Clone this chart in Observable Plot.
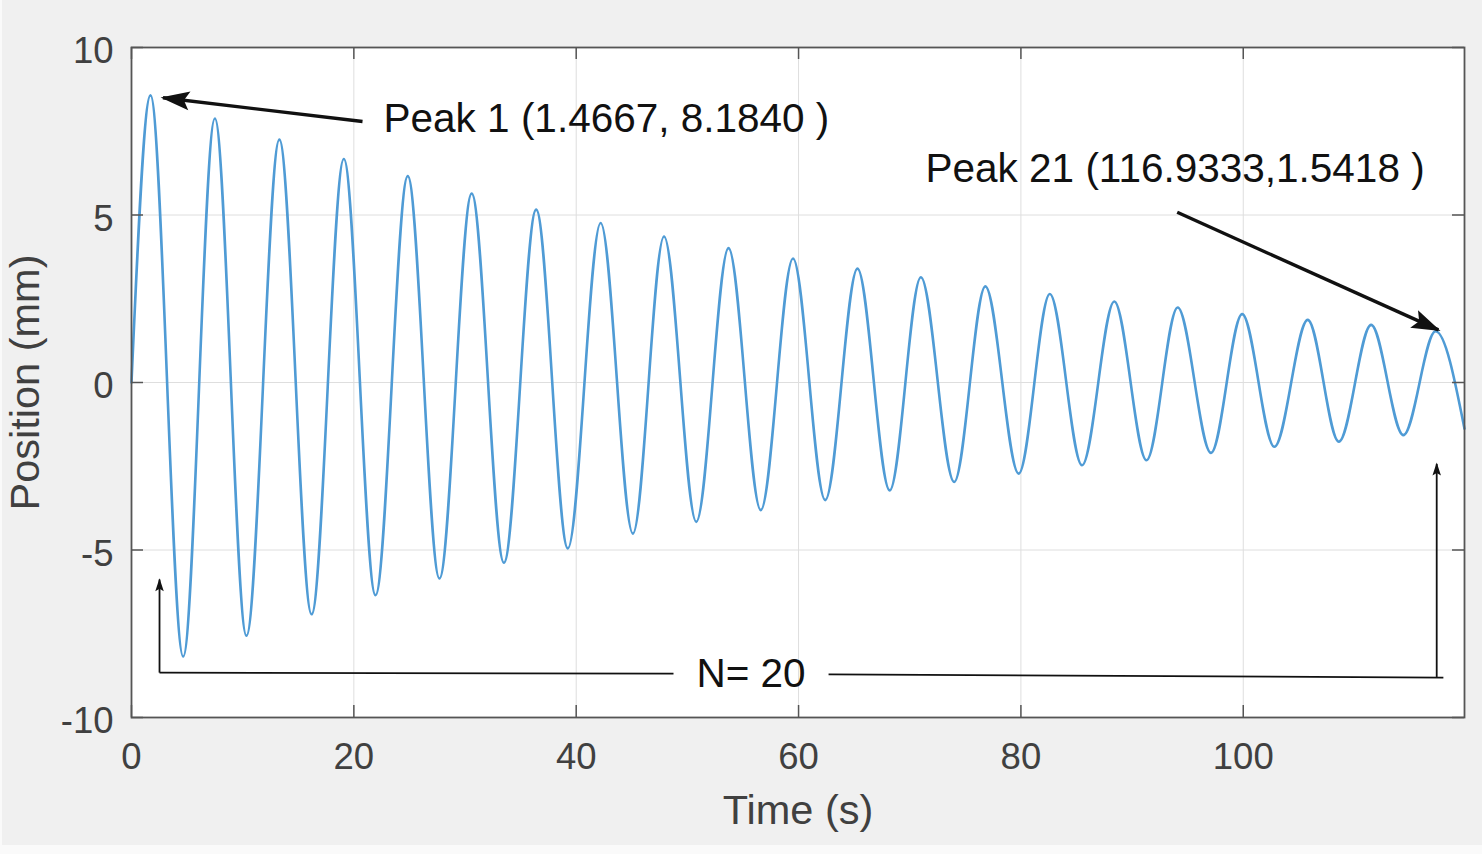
<!DOCTYPE html>
<html><head><meta charset="utf-8">
<script src="https://cdn.jsdelivr.net/npm/d3@7"></script>
<script src="https://cdn.jsdelivr.net/npm/@observablehq/plot@0.6"></script>
<style>
html,body{margin:0;padding:0;background:#fafafa;overflow:hidden;}
#bg{position:absolute;left:2px;top:0;width:1480px;height:845px;background:#f0f0f0;}
#chart{position:absolute;left:0;top:0;}
svg{display:block;}
</style></head><body>
<div id="bg"></div>
<div id="chart"></div>
<script>
// ---- data ----
const startT = 0, startY = 0;
const peakT = [1.71, 7.5, 13.3, 19.1, 24.85, 30.6, 36.4, 42.2, 47.9, 53.7, 59.5, 65.3, 71.0, 76.8, 82.6, 88.4, 94.1, 99.9, 105.8, 111.5, 117.3];
const peakY = [8.57, 7.88, 7.25, 6.67, 6.16, 5.64, 5.16, 4.76, 4.36, 4.01, 3.70, 3.40, 3.14, 2.87, 2.64, 2.42, 2.24, 2.04, 1.87, 1.72, 1.53];
const troughT = [4.65, 10.34, 16.2, 21.95, 27.7, 33.5, 39.25, 45.1, 50.8, 56.6, 62.4, 68.2, 74.0, 79.8, 85.5, 91.3, 97.1, 102.8, 108.6, 114.4];
const troughY = [-8.18, -7.56, -6.92, -6.35, -5.85, -5.38, -4.95, -4.51, -4.16, -3.81, -3.51, -3.22, -2.97, -2.72, -2.47, -2.32, -2.10, -1.92, -1.77, -1.57];
const endT = 119.9, endY = -1.38;

const xTicks = [0, 20, 40, 60, 80, 100];
const yTicks = [-10, -5, 0, 5, 10];
const xDomain = [0, 119.9];
const yDomain = [-10, 10];

// annotations (data coordinates)
const peakNotes = [
  {text: "Peak 1 (1.4667, 8.1840 )", x: 22.67, y: 7.85},
  {text: "Peak 21 (116.9333,1.5418 )", x: 71.42, y: 6.37}
];
const countNotes = [{text: "N= 20", x: 55.72, y: -8.69}];
const bigArrows = [
  {x1: 20.78, y1: 7.79, x2: 2.83, y2: 8.50},
  {x1: 94.06, y1: 5.08, x2: 117.55, y2: 1.57}
];
const smallArrows = [
  {x1: 2.52, y1: -8.66, x2: 2.52, y2: -5.88},
  {x1: 117.4, y1: -8.79, x2: 117.4, y2: -2.43}
];
const spanLines = [
  {x1: 2.52, y1: -8.66, x2: 48.75, y2: -8.69},
  {x1: 62.7, y1: -8.71, x2: 118.0, y2: -8.81}
];

// ---- build series ----
const series = [{t: startT, y: startY}];
peakT.forEach((t, i) => series.push({t, y: peakY[i]}));
troughT.forEach((t, i) => series.push({t, y: troughY[i]}));
series.push({t: endT, y: endY});
series.sort((a, b) => a.t - b.t);

const W = 1482, H = 854;
const mL = 131, mR = 18, mT = 47, mB = 137;
const tickPx = 12;
const tlx = tickPx * (xDomain[1] - xDomain[0]) / (W - mL - mR);
const tly = tickPx * (yDomain[1] - yDomain[0]) / (H - mT - mB);
const font = "'Liberation Sans', Arial, Helvetica, sans-serif";
const gridColor = "#dedede";
const axisColor = "#555555";
const labelColor = "#404040";
const fmt = d => String(d);

// filled MATLAB-style arrowhead marker (pixel sized)
const NS = "http://www.w3.org/2000/svg";
function headMarker(L, Wd, notch, ext) {
  return (color, context) => {
    const doc = (context && context.document) || document;
    const m = doc.createElementNS(NS, "marker");
    m.setAttribute("markerUnits", "userSpaceOnUse");
    m.setAttribute("viewBox", `${-L - 1} ${-Wd / 2 - 1} ${L + 2} ${Wd + 2}`);
    m.setAttribute("markerWidth", L + 2);
    m.setAttribute("markerHeight", Wd + 2);
    m.setAttribute("refX", -ext);
    m.setAttribute("refY", 0);
    m.setAttribute("orient", "auto");
    m.setAttribute("fill", color);
    m.setAttribute("stroke", "none");
    const p = doc.createElementNS(NS, "path");
    p.setAttribute("d", `M0,0L${-L},${-Wd / 2}L${-notch},0L${-L},${Wd / 2}Z`);
    m.appendChild(p);
    return m;
  };
}

const plot = Plot.plot({
  width: W, height: H,
  marginLeft: mL, marginRight: mR, marginTop: mT, marginBottom: mB,
  style: {background: "transparent", fontFamily: font, overflow: "visible"},
  x: {domain: xDomain},
  y: {domain: yDomain},
  marks: [
    Plot.frame({fill: "white", stroke: "none"}),
    Plot.gridX(xTicks, {stroke: gridColor, strokeOpacity: 1, strokeWidth: 1}),
    Plot.gridY(yTicks, {stroke: gridColor, strokeOpacity: 1, strokeWidth: 1}),
    Plot.line(series, {x: "t", y: "y", curve: "monotone-x", stroke: "#4f9bd5", strokeWidth: 2.6}),
    Plot.link(spanLines, {x1: "x1", y1: "y1", x2: "x2", y2: "y2", stroke: "#111", strokeWidth: 1.8}),
    Plot.link(smallArrows, {x1: "x1", y1: "y1", x2: "x2", y2: "y2", stroke: "#111", strokeWidth: 1.8, markerEnd: headMarker(13, 8.5, 10.5, 1.3)}),
    Plot.link(bigArrows, {x1: "x1", y1: "y1", x2: "x2", y2: "y2", stroke: "#111", strokeWidth: 3.4, markerEnd: headMarker(29, 19, 23.5, 2.4)}),
    Plot.text(peakNotes, {x: "x", y: "y", text: "text", textAnchor: "start", lineAnchor: "middle", fontSize: 40.5, fill: "#111"}),
    Plot.text(countNotes, {x: "x", y: "y", text: "text", textAnchor: "middle", lineAnchor: "middle", fontSize: 40.5, fill: "#111"}),
    // inner ticks on all four sides
    Plot.ruleX(xTicks, {x: d => d, y1: yDomain[0], y2: yDomain[0] + tly, stroke: axisColor, strokeWidth: 1.5}),
    Plot.ruleX(xTicks, {x: d => d, y1: yDomain[1], y2: yDomain[1] - tly, stroke: axisColor, strokeWidth: 1.5}),
    Plot.ruleY(yTicks, {y: d => d, x1: xDomain[0], x2: xDomain[0] + tlx, stroke: axisColor, strokeWidth: 1.5}),
    Plot.ruleY(yTicks, {y: d => d, x1: xDomain[1], x2: xDomain[1] - tlx, stroke: axisColor, strokeWidth: 1.5}),
    Plot.frame({stroke: axisColor, strokeWidth: 1.8}),
    Plot.axisX(xTicks, {tickSize: 0, tickPadding: 26, fontSize: 36.5, color: labelColor, label: null, tickFormat: fmt}),
    Plot.axisY(yTicks, {tickSize: 0, tickPadding: 18, fontSize: 36.5, color: labelColor, label: null, dy: 4, tickFormat: fmt}),
    Plot.text(["Time (s)"], {frameAnchor: "bottom", dy: 93, lineAnchor: "middle", textAnchor: "middle", fontSize: 41.5, fill: labelColor}),
    Plot.text(["Position (mm)"], {frameAnchor: "left", dx: -106, rotate: -90, lineAnchor: "middle", textAnchor: "middle", fontSize: 41.5, fill: labelColor})
  ]
});

document.getElementById("chart").appendChild(plot);
</script>
</body></html>
